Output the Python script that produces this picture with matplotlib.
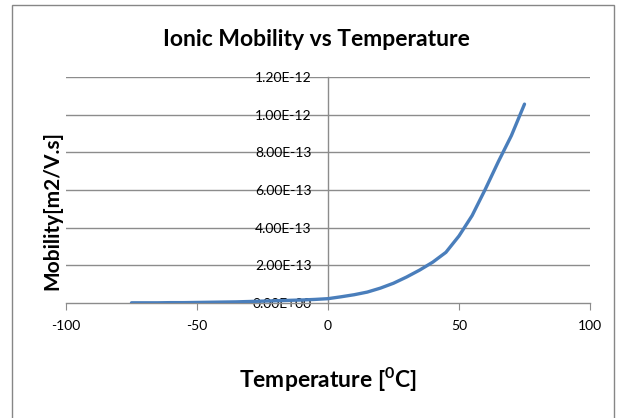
import matplotlib
matplotlib.use("Agg")
import matplotlib.pyplot as plt
from matplotlib.patches import Rectangle

temperature = [-75, -70, -65, -60, -55, -50, -45, -40, -35, -30, -25, -20, -15, -10, -5,
               0, 5, 10, 15, 20, 25, 30, 35, 40, 45, 50, 55, 60, 65, 70, 75]
mobility_e12 = [0.001, 0.001, 0.001, 0.002, 0.002, 0.003, 0.004, 0.005, 0.006, 0.008, 0.010,
                0.012, 0.014, 0.016, 0.019, 0.023, 0.033, 0.044, 0.058, 0.079, 0.105, 0.138,
                0.175, 0.217, 0.269, 0.356, 0.464, 0.603, 0.750, 0.889, 1.056]
mobility = [v * 1e-12 for v in mobility_e12]

x_ticks = [-100, -50, 0, 50, 100]
y_ticks = [0, 2e-13, 4e-13, 6e-13, 8e-13, 1e-12, 1.2e-12]
y_tick_labels = ["0.00E+00", "2.00E-13", "4.00E-13", "6.00E-13", "8.00E-13", "1.00E-12", "1.20E-12"]

plt.rcParams['font.family'] = ['Lato', 'DejaVu Sans']

W, H = 624, 418
fig = plt.figure(figsize=(W / 100, H / 100), dpi=100)
fig.patch.set_facecolor('white')

# outer chart border
fig.patches.append(Rectangle((12 / W, -0.05), (614 - 12) / W, 1.05 - 5 / H,
                             transform=fig.transFigure, fill=False,
                             edgecolor='#868686', linewidth=1.0))

ax = fig.add_axes([66 / W, 1 - 303 / H, (590 - 66) / W, (303 - 77) / H])
ax.set_xlim(-100, 100)
ax.set_ylim(0, 1.2e-12)

grid_color = '#8c8c8c'
for yv in y_ticks[1:]:
    ax.axhline(yv, color=grid_color, linewidth=1.0, zorder=1)

ax.spines['top'].set_visible(False)
ax.spines['right'].set_visible(False)
ax.spines['left'].set_position(('data', 0))
ax.spines['left'].set_color(grid_color)
ax.spines['bottom'].set_color(grid_color)
ax.spines['left'].set_linewidth(1.0)
ax.spines['bottom'].set_linewidth(1.0)

ax.set_xticks(x_ticks)
ax.set_xticklabels([str(v) for v in x_ticks])
ax.set_yticks(y_ticks)
ax.set_yticklabels(y_tick_labels)
ax.tick_params(axis='x', direction='out', length=5, color=grid_color, pad=7,
               labelsize=10, labelcolor='#000000')
ax.tick_params(axis='y', length=0, pad=12, labelsize=10, labelcolor='#000000')

ax.plot(temperature, mobility, color='#4A7EBB', linewidth=2.4, zorder=3,
        solid_capstyle='round', solid_joinstyle='round')

fig.text(316 / W, 1 - 40 / H, "Ionic Mobility vs Temperature", ha='center', va='center',
         fontsize=16.5, fontweight='bold')
fig.text(328 / W, 1 - 380 / H, r"Temperature [$\mathregular{^0}$C]", ha='center', va='center',
         fontsize=16.5, fontweight='bold')
fig.text(52 / W, 1 - 211 / H, "Mobility[m2/V.s]", ha='center', va='center',
         fontsize=15, fontweight='bold', rotation=90)

fig.savefig("out.png", dpi=100)
